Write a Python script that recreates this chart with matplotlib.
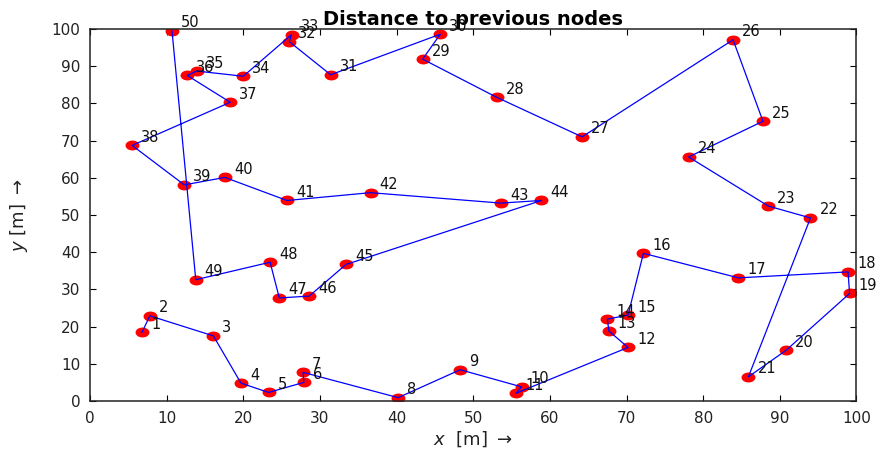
import numpy as np
import matplotlib
matplotlib.use("Agg")
from matplotlib import pyplot as plt
from matplotlib.path import Path
from matplotlib.transforms import Affine2D

plt.rcParams['font.family'] = ['DejaVu Sans']

# node coordinates in visiting order (node 1 .. 50)
xs = [6.8, 7.8, 16.1, 19.7, 23.3, 27.9, 27.8, 40.2, 48.3, 56.3,
      55.6, 70.2, 67.7, 67.5, 70.2, 72.2, 84.6, 98.9, 99.1, 90.8,
      85.9, 94.0, 88.5, 78.1, 87.8, 83.9, 64.2, 53.1, 43.4, 45.7,
      31.4, 26.0, 26.3, 20.0, 13.9, 12.7, 18.3, 5.5, 12.3, 17.6,
      25.7, 36.6, 53.6, 58.9, 33.4, 28.6, 24.7, 23.5, 13.8, 10.7]
ys = [18.5, 22.9, 17.5, 4.8, 2.3, 5.0, 7.7, 0.9, 8.4, 3.8,
      2.1, 14.4, 18.8, 22.0, 23.1, 39.7, 33.1, 34.7, 28.9, 13.6,
      6.5, 49.2, 52.4, 65.6, 75.2, 97.1, 71.0, 81.6, 91.9, 98.6,
      87.7, 96.6, 98.5, 87.3, 88.7, 87.5, 80.3, 68.7, 58.1, 60.1,
      53.9, 56.0, 53.2, 53.9, 36.7, 28.2, 27.7, 37.3, 32.6, 99.5]
node_ids = list(range(1, len(xs) + 1))

fig = plt.figure(figsize=(8.77, 4.53), dpi=100)
ax = fig.add_axes([0.1026, 0.1148, 0.874, 0.8212])

# flattened ellipse marker
ell = Path.unit_circle().transformed(Affine2D().scale(1.0, 0.68))
ax.plot(xs, ys, linestyle='none', marker=ell, markersize=9,
        markerfacecolor='red', markeredgecolor='red', zorder=2)
ax.plot(xs, ys, color='blue', linewidth=0.9, zorder=3)

for n, x, y in zip(node_ids, xs, ys):
    ax.annotate(str(n), (x, y), xytext=(6.5, 2.5), textcoords='offset points',
                fontsize=10.5, ha='left', va='baseline', color='#111111',
                zorder=4)

ax.set_xlim(0, 100)
ax.set_ylim(0, 100)
ax.set_xticks(np.arange(0, 101, 10))
ax.set_yticks(np.arange(0, 101, 10))
ax.tick_params(direction='in', top=True, right=True, length=4,
               labelsize=11, width=0.8, labelcolor='#222222')
ax.tick_params(axis='x', pad=7)
ax.tick_params(axis='y', pad=7)
for s in ax.spines.values():
    s.set_linewidth(1.1)
    s.set_color('#222222')

ax.set_title('Distance to previous nodes', fontsize=14, fontweight='bold', pad=3)
ax.set_xlabel(r'$x$  [m] $\rightarrow$', fontsize=13, labelpad=3, color='#222222')
ax.set_ylabel(r'$y$ [m] $\rightarrow$', fontsize=13, color='#222222')
ax.yaxis.set_label_coords(-0.078, 0.5)

fig.savefig('out.png', dpi=100)
